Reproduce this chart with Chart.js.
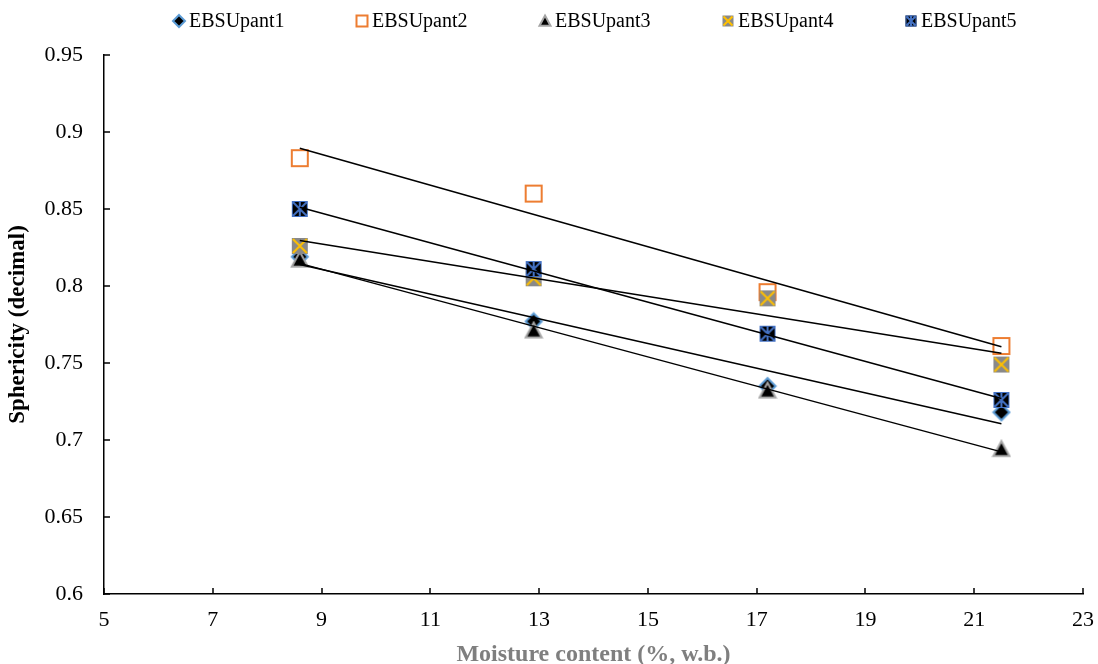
<!DOCTYPE html>
<html><head><meta charset="utf-8">
<script src="https://cdn.jsdelivr.net/npm/chart.js@4"></script>
<style>html,body{margin:0;padding:0;background:#fff;}#wrap{width:1098px;height:664px;position:relative;}</style>
</head><body><div id="wrap"><canvas id="c"></canvas></div>
<script>
// ---- data ----
const moisture = [8.6, 12.9, 17.2, 21.5];
const seriesNames = ['EBSUpant1', 'EBSUpant2', 'EBSUpant3', 'EBSUpant4', 'EBSUpant5'];
const pant1 = [0.819, 0.777, 0.735, 0.718];
const pant2 = [0.883, 0.860, 0.796, 0.761];
const pant3 = [0.817, 0.771, 0.732, 0.694];
const pant4 = [0.826, 0.805, 0.792, 0.749];
const pant5 = [0.850, 0.811, 0.769, 0.726];
const xTicks = [5, 7, 9, 11, 13, 15, 17, 19, 21, 23];
const yTicks = [0.6, 0.65, 0.7, 0.75, 0.8, 0.85, 0.9, 0.95];
const xTitle = 'Moisture content (%, w.b.)';
const yTitle = 'Sphericity (decimal)';

const allSeries = [pant1, pant2, pant3, pant4, pant5];
const markerKinds = ['diamond', 'openSquare', 'triangle', 'graySquareX', 'blackSquareStar'];
const SERIF = "'Liberation Serif', 'Times New Roman', serif";

function drawMarker(ctx, kind, cx, cy, s) {
  const h = s / 2;
  ctx.save();
  ctx.lineJoin = 'miter';
  if (kind === 'diamond') {
    ctx.beginPath();
    ctx.moveTo(cx, cy - h); ctx.lineTo(cx + h, cy); ctx.lineTo(cx, cy + h); ctx.lineTo(cx - h, cy); ctx.closePath();
    ctx.fillStyle = '#000'; ctx.fill();
    ctx.strokeStyle = '#5b9bd5'; ctx.lineWidth = 2; ctx.stroke();
  } else if (kind === 'openSquare') {
    ctx.fillStyle = '#fff';
    ctx.fillRect(cx - h, cy - h, s, s);
    ctx.strokeStyle = '#ed7d31'; ctx.lineWidth = 2;
    ctx.strokeRect(cx - h, cy - h, s, s);
  } else if (kind === 'triangle') {
    ctx.beginPath();
    ctx.moveTo(cx, cy - h); ctx.lineTo(cx + h, cy + h * 0.85); ctx.lineTo(cx - h, cy + h * 0.85); ctx.closePath();
    ctx.fillStyle = '#000'; ctx.fill();
    ctx.strokeStyle = '#a5a5a5'; ctx.lineWidth = 2; ctx.stroke();
  } else if (kind === 'graySquareX') {
    ctx.fillStyle = '#898989';
    ctx.fillRect(cx - h, cy - h, s, s);
    ctx.strokeStyle = '#ffc000'; ctx.lineWidth = 2;
    ctx.beginPath();
    ctx.moveTo(cx - h + 1, cy - h + 1); ctx.lineTo(cx + h - 1, cy + h - 1);
    ctx.moveTo(cx + h - 1, cy - h + 1); ctx.lineTo(cx - h + 1, cy + h - 1);
    ctx.stroke();
  } else if (kind === 'blackSquareStar') {
    ctx.fillStyle = '#000';
    ctx.fillRect(cx - h, cy - h, s, s);
    ctx.strokeStyle = '#4472c4'; ctx.lineWidth = 2;
    ctx.beginPath();
    ctx.moveTo(cx - h + 1, cy - h + 1); ctx.lineTo(cx + h - 1, cy + h - 1);
    ctx.moveTo(cx + h - 1, cy - h + 1); ctx.lineTo(cx - h + 1, cy + h - 1);
    ctx.moveTo(cx, cy - h); ctx.lineTo(cx, cy + h);
    ctx.stroke();
    ctx.lineWidth = 1;
    ctx.strokeRect(cx - h + 0.5, cy - h + 0.5, s - 1, s - 1);
  }
  ctx.restore();
}

function markerCanvas(kind, s) {
  const c = document.createElement('canvas');
  c.width = s + 4; c.height = s + 4;
  drawMarker(c.getContext('2d'), kind, (s + 4) / 2, (s + 4) / 2, s);
  return c;
}

function regression(xs, ys) {
  const n = xs.length;
  const mx = xs.reduce((a, b) => a + b, 0) / n;
  const my = ys.reduce((a, b) => a + b, 0) / n;
  let sxy = 0, sxx = 0;
  for (let i = 0; i < n; i++) { sxy += (xs[i] - mx) * (ys[i] - my); sxx += (xs[i] - mx) ** 2; }
  const b = sxy / sxx;
  return x => my + b * (x - mx);
}

const datasets = [];
allSeries.forEach((ys, i) => {
  const f = regression(moisture, ys);
  const xa = moisture[0], xb = moisture[moisture.length - 1];
  datasets.push({
    type: 'line', label: 'trend' + (i + 1), isTrend: true,
    data: [{x: xa, y: f(xa)}, {x: xb, y: f(xb)}],
    borderColor: '#000', borderWidth: 1.5, pointRadius: 0, fill: false, order: 0
  });
});
allSeries.forEach((ys, i) => {
  datasets.push({
    type: 'scatter', label: seriesNames[i],
    data: moisture.map((x, j) => ({x, y: ys[j]})),
    pointStyle: markerCanvas(markerKinds[i], 16),
    pointRadius: 9, showLine: false, order: 10 - i
  });
});

const legendStart = 173, legendStep = 183, legendY = 21;
const extras = {
  id: 'extras',
  afterDraw(chart) {
    const ctx = chart.ctx;
    const xs = chart.scales.x, ys = chart.scales.y;
    const area = chart.chartArea;
    ctx.save();
    ctx.strokeStyle = '#000'; ctx.lineWidth = 1.5;
    ctx.beginPath();
    xTicks.forEach(v => { const p = Math.round(xs.getPixelForValue(v)); ctx.moveTo(p, area.bottom); ctx.lineTo(p, area.bottom - 6); });
    yTicks.forEach(v => { const p = Math.round(ys.getPixelForValue(v)); ctx.moveTo(area.left, p); ctx.lineTo(area.left + 6, p); });
    ctx.stroke();
    // legend
    ctx.font = '20px ' + SERIF;
    ctx.fillStyle = '#000';
    ctx.textBaseline = 'middle';
    seriesNames.forEach((name, i) => {
      const x0 = legendStart + i * legendStep;
      drawMarker(ctx, markerKinds[i], x0 + 6, legendY, markerKinds[i] === 'diamond' ? 12 : 11);
      ctx.fillText(name, x0 + 16, legendY + 1);
    });
    ctx.restore();
  }
};

new Chart(document.getElementById('c'), {
  data: { datasets },
  options: {
    responsive: true, maintainAspectRatio: false, animation: false,
    layout: { padding: { top: 55, right: 15, left: 0, bottom: 0 } },
    plugins: { legend: { display: false }, tooltip: { enabled: false } },
    scales: {
      x: {
        type: 'linear', min: 5, max: 23,
        afterBuildTicks: s => { s.ticks = xTicks.map(v => ({value: v})); },
        afterFit: s => { s.height = 70; s.paddingLeft = 0; s.paddingRight = 0; },
        grid: { display: true, drawOnChartArea: false, drawTicks: false },
        border: { color: '#000', width: 1.5 },
        ticks: { color: '#000', font: { family: SERIF, size: 22 }, padding: 13, maxRotation: 0, callback: v => String(v) },
        title: { display: true, text: xTitle, color: '#7f7f7f', font: { family: SERIF, size: 24, weight: 'bold' }, padding: { top: 0, bottom: -5 } }
      },
      y: {
        type: 'linear', min: 0.6, max: 0.95,
        afterBuildTicks: s => { s.ticks = yTicks.map(v => ({value: v})); },
        afterFit: s => { s.width = 104; s.paddingTop = 0; s.paddingBottom = 0; },
        grid: { display: true, drawOnChartArea: false, drawTicks: false },
        border: { color: '#000', width: 1.5 },
        ticks: { color: '#000', font: { family: SERIF, size: 22 }, padding: 21, callback: v => String(parseFloat(v.toFixed(2))) },
        title: { display: true, text: yTitle, color: '#000', font: { family: SERIF, size: 23, weight: 'bold' }, padding: { top: 4, bottom: 0 } }
      }
    }
  },
  plugins: [extras]
});
</script></body></html>
